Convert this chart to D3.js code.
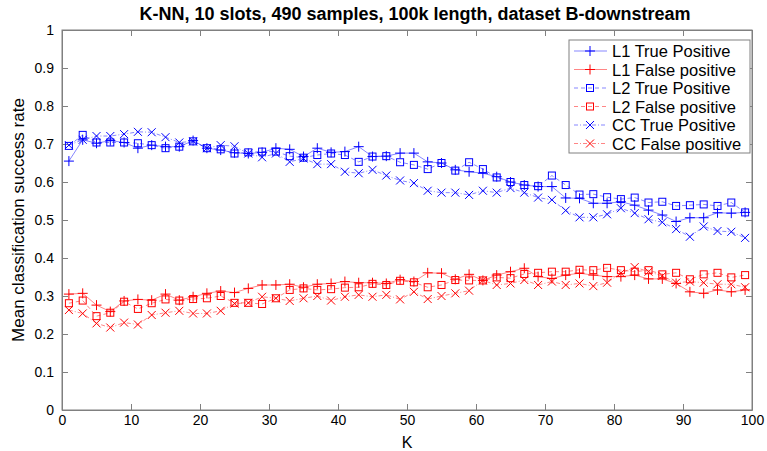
<!DOCTYPE html>
<html>
<head>
<meta charset="utf-8">
<script src="https://cdn.jsdelivr.net/npm/d3@7"></script>
<style>
  body { margin: 0; background: #fff; }
  svg text { font-family: "Liberation Sans", Arial, sans-serif; }
</style>
</head>
<body>
<div id="chart"></div>
<script>
// K values (odd, 1..99)
var kValues = d3.range(1, 100, 2);

var l1True = [0.655, 0.711, 0.702, 0.709, 0.704, 0.689, 0.697, 0.693, 0.693, 0.709, 0.689, 0.684, 0.677,
  0.675, 0.678, 0.689, 0.686, 0.667, 0.689, 0.678, 0.680, 0.693, 0.667, 0.668, 0.676,
  0.676, 0.653, 0.650, 0.632, 0.627, 0.623, 0.614, 0.600, 0.592, 0.588, 0.588, 0.558, 0.557,
  0.544, 0.544, 0.548, 0.539, 0.526, 0.513, 0.496, 0.506, 0.506, 0.519, 0.518, 0.520];

var l1False = [0.305, 0.307, 0.276, 0.259, 0.287, 0.291, 0.289, 0.305, 0.289, 0.298, 0.307, 0.313, 0.309,
  0.320, 0.329, 0.329, 0.331, 0.323, 0.331, 0.333, 0.338, 0.335, 0.335, 0.333, 0.343,
  0.338, 0.361, 0.360, 0.344, 0.357, 0.341, 0.355, 0.364, 0.373, 0.351, 0.346, 0.355, 0.360,
  0.355, 0.351, 0.351, 0.355, 0.345, 0.345, 0.333, 0.311, 0.307, 0.316, 0.311, 0.316];

var l2True = [0.695, 0.724, 0.704, 0.704, 0.704, 0.702, 0.697, 0.689, 0.693, 0.707, 0.689, 0.686, 0.675,
  0.678, 0.680, 0.680, 0.668, 0.664, 0.671, 0.675, 0.671, 0.653, 0.667, 0.668, 0.652,
  0.645, 0.634, 0.650, 0.630, 0.652, 0.634, 0.612, 0.600, 0.592, 0.589, 0.617, 0.592, 0.567,
  0.568, 0.560, 0.555, 0.559, 0.546, 0.548, 0.537, 0.539, 0.541, 0.537, 0.546, 0.520];

var l2False = [0.281, 0.288, 0.247, 0.256, 0.285, 0.266, 0.281, 0.291, 0.288, 0.292, 0.294, 0.300, 0.282,
  0.282, 0.279, 0.294, 0.316, 0.320, 0.316, 0.318, 0.322, 0.323, 0.332, 0.329, 0.340,
  0.336, 0.323, 0.329, 0.342, 0.341, 0.341, 0.349, 0.347, 0.358, 0.361, 0.364, 0.364, 0.369,
  0.368, 0.374, 0.368, 0.364, 0.368, 0.357, 0.361, 0.344, 0.357, 0.361, 0.349, 0.355];

var ccTrue = [0.697, 0.711, 0.721, 0.721, 0.726, 0.732, 0.731, 0.718, 0.704, 0.707, 0.689, 0.697, 0.694,
  0.675, 0.665, 0.675, 0.653, 0.662, 0.647, 0.647, 0.627, 0.623, 0.632, 0.617, 0.604,
  0.597, 0.577, 0.572, 0.572, 0.566, 0.577, 0.572, 0.584, 0.572, 0.559, 0.553, 0.525, 0.507,
  0.507, 0.515, 0.531, 0.518, 0.502, 0.494, 0.476, 0.456, 0.483, 0.471, 0.469, 0.453];

var ccFalse = [0.263, 0.254, 0.228, 0.217, 0.230, 0.225, 0.250, 0.256, 0.261, 0.254, 0.254, 0.261, 0.280,
  0.282, 0.298, 0.294, 0.287, 0.294, 0.300, 0.288, 0.298, 0.303, 0.298, 0.303, 0.291,
  0.311, 0.292, 0.300, 0.307, 0.314, 0.341, 0.329, 0.333, 0.342, 0.329, 0.338, 0.329, 0.333,
  0.326, 0.335, 0.360, 0.376, 0.364, 0.353, 0.335, 0.338, 0.335, 0.331, 0.331, 0.323];

var seriesNames = ["L1 True Positive", "L1 False positive", "L2 True Positive",
  "L2 False positive", "CC True Positive", "CC False positive"];

var xTicks = d3.range(0, 101, 10);
var yTicks = d3.range(0, 11).map(function (d) { return d / 10; });

var series = [
  {name: seriesNames[0], values: l1True, color: "#0000ff", dash: null, marker: "plus"},
  {name: seriesNames[1], values: l1False, color: "#ff0000", dash: null, marker: "plus"},
  {name: seriesNames[2], values: l2True, color: "#0000ff", dash: "4,3", marker: "square"},
  {name: seriesNames[3], values: l2False, color: "#ff0000", dash: "4,3", marker: "square"},
  {name: seriesNames[4], values: ccTrue, color: "#0000ff", dash: "4,2,1,2", marker: "cross"},
  {name: seriesNames[5], values: ccFalse, color: "#ff0000", dash: "4,2,1,2", marker: "cross"}
];

var width = 767, height = 451;
var margin = {top: 30, right: 15, bottom: 41, left: 62};
var w = width - margin.left - margin.right,
    h = height - margin.top - margin.bottom;

var svg = d3.select("#chart").append("svg")
    .attr("width", width)
    .attr("height", height);

var g = svg.append("g")
    .attr("transform", "translate(" + margin.left + "," + margin.top + ")");

var x = d3.scaleLinear().domain([0, 100]).range([0, w]);
var y = d3.scaleLinear().domain([0, 1]).range([h, 0]);

// frame (box on)
g.append("rect")
    .attr("width", w).attr("height", h)
    .attr("fill", "none")
    .attr("stroke", "#808080")
    .attr("stroke-width", 1);

// bottom / left axes, ticks pointing inward
g.append("g")
    .attr("transform", "translate(0," + h + ")")
    .call(d3.axisBottom(x).tickValues(xTicks).tickSizeInner(-6).tickSizeOuter(0).tickPadding(5));
g.append("g")
    .call(d3.axisLeft(y).tickValues(yTicks).tickFormat(d3.format("")).tickSizeInner(-6).tickSizeOuter(0).tickPadding(8));
// top/right ticks
g.append("g")
    .call(d3.axisTop(x).tickValues(xTicks).tickSizeInner(-6).tickSizeOuter(0).tickFormat(""));
g.append("g")
    .attr("transform", "translate(" + w + ",0)")
    .call(d3.axisRight(y).tickValues(yTicks).tickSizeInner(-6).tickSizeOuter(0).tickFormat(""));

svg.selectAll(".domain").attr("stroke", "#808080");
svg.selectAll(".tick line").attr("stroke", "#808080");
svg.selectAll(".tick text").attr("font-size", 14).attr("fill", "#000");

// lines
var line = d3.line()
    .x(function (d, i) { return x(kValues[i]); })
    .y(function (d) { return y(d); });

function drawMarker(sel, type, color) {
    var s = 4;
    if (type === "plus") {
        sel.append("path").attr("d", "M" + (-s - 1) + ",0H" + (s + 1) + "M0," + (-s - 1) + "V" + (s + 1));
    } else if (type === "square") {
        sel.append("rect").attr("x", -s + 0.5).attr("y", -s + 0.5).attr("width", 2 * s - 1).attr("height", 2 * s - 1);
    } else {
        sel.append("path").attr("d", "M" + (-s) + "," + (-s) + "L" + s + "," + s + "M" + (-s) + "," + s + "L" + s + "," + (-s));
    }
    sel.selectAll("path, rect")
        .attr("fill", "none")
        .attr("stroke", color)
        .attr("stroke-width", 1);
}

series.forEach(function (s) {
    g.append("path")
        .datum(s.values)
        .attr("fill", "none")
        .attr("stroke", s.color)
        .attr("stroke-opacity", 0.6)
        .attr("stroke-width", 0.8)
        .attr("stroke-dasharray", s.dash)
        .attr("d", line);

    g.selectAll(null)
        .data(s.values)
        .enter().append("g")
        .attr("transform", function (d, i) {
            return "translate(" + x(kValues[i]) + "," + y(d) + ")";
        })
        .each(function () { drawMarker(d3.select(this), s.marker, s.color); });
});

// title
svg.append("text")
    .attr("x", margin.left + w / 2 + 8)
    .attr("y", 20)
    .attr("text-anchor", "middle")
    .attr("font-size", 18)
    .attr("font-weight", "bold")
    .text("K-NN, 10 slots, 490 samples, 100k length, dataset B-downstream");

// axis labels
svg.append("text")
    .attr("x", margin.left + w / 2)
    .attr("y", height - 3)
    .attr("text-anchor", "middle")
    .attr("font-size", 16)
    .text("K");

svg.append("text")
    .attr("transform", "translate(24," + (margin.top + h / 2) + ") rotate(-90)")
    .attr("text-anchor", "middle")
    .attr("font-size", 17)
    .text("Mean classification success rate");

// legend
var legend = svg.append("g").attr("transform", "translate(569,40)");
legend.append("rect")
    .attr("width", 181).attr("height", 113)
    .attr("fill", "#fff")
    .attr("stroke", "#808080");

series.forEach(function (s, i) {
    var row = legend.append("g").attr("transform", "translate(0," + (11 + i * 18.5) + ")");
    row.append("line")
        .attr("x1", 5).attr("x2", 38)
        .attr("stroke", s.color)
        .attr("stroke-opacity", 0.6)
        .attr("stroke-width", 0.8)
        .attr("stroke-dasharray", s.dash);
    var m = row.append("g").attr("transform", "translate(21,0)");
    drawMarker(m, s.marker, s.color);
    row.append("text")
        .attr("x", 43).attr("y", 6)
        .attr("font-size", 16.5)
        .text(s.name);
});
</script>
</body>
</html>
